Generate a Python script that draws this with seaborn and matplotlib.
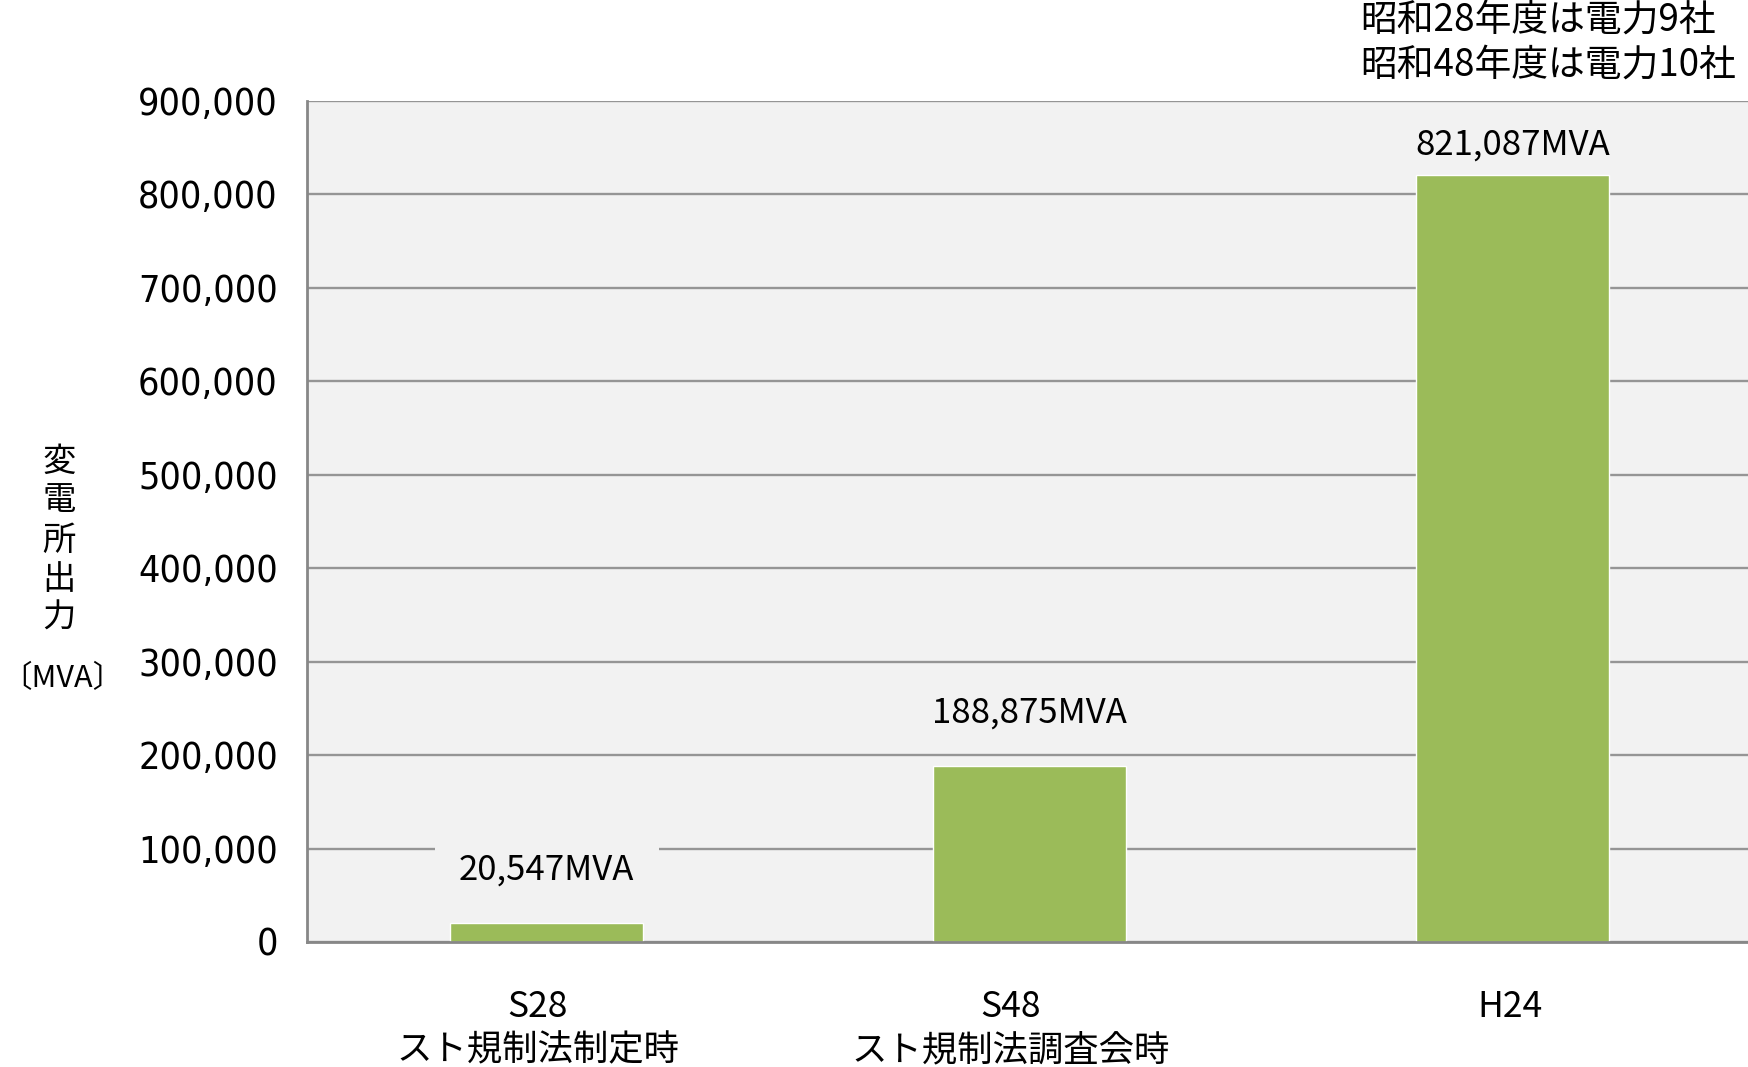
import matplotlib
matplotlib.use("Agg")
import matplotlib.pyplot as plt
import matplotlib.transforms as mtransforms
import seaborn as sns

# Substation output (MVA) at three points in time
categories = ["S28\nスト規制法制定時", "S48\nスト規制法調査会時", "H24"]
values = [20547, 188875, 821087]
value_labels = ["20,547MVA", "188,875MVA", "821,087MVA"]
y_ticks = [0, 100000, 200000, 300000, 400000, 500000, 600000, 700000, 800000, 900000]
y_tick_labels = ["0", "100,000", "200,000", "300,000", "400,000", "500,000",
                 "600,000", "700,000", "800,000", "900,000"]
note_text = "昭和28年度は電力9社\n昭和48年度は電力10社"
y_label_main = "変\n電\n所\n出\n力"
y_label_unit = "〔MVA〕"

BAR_COLOR = "#9bbb59"
PANEL_BG = "#f2f2f2"
GRID_COLOR = "#959595"
SPINE_COLOR = "#878787"
# distance (points) between each bar top and its value label
LABEL_PAD = [25, 25, 9]
# horizontal nudge (pixels) of each category label
XLABEL_SHIFT = [-9, -19, -3]

sns.set_theme(style="white")
plt.rcParams["font.family"] = ["Noto Sans CJK JP", "DejaVu Sans"]
CONDENSED = ["Noto Sans ExtraCondensed", "Noto Sans Condensed",
             "DejaVu Sans Condensed", "DejaVu Sans"]

W, H = 1749, 1067
fig = plt.figure(figsize=(W / 100, H / 100), dpi=100)
ax = fig.add_axes([307 / W, 1 - 942 / H, 1 - 307 / W, (942 - 101) / H])
ax.set_facecolor(PANEL_BG)

sns.barplot(x=categories, y=values, color=BAR_COLOR, saturation=1,
            width=0.4, ax=ax, zorder=2)

ax.set_xlim(-0.496, -0.496 + (W - 307) / 483)
ax.set_ylim(0, 900000)
ax.set_yticks(y_ticks)
ax.set_yticklabels(y_tick_labels, fontfamily=CONDENSED, fontstretch="condensed",
                   fontsize=27, color="black")
ax.set_xticks(range(len(categories)))
ax.set_xticklabels(categories, fontsize=25.5, color="black", linespacing=1.27)
ax.tick_params(axis="y", length=0, pad=21)
ax.tick_params(axis="x", length=0, pad=34)
for lab, dx in zip(ax.get_xticklabels(), XLABEL_SHIFT):
    lab.set_transform(lab.get_transform()
                      + mtransforms.ScaledTranslation(dx / 100, 0, fig.dpi_scale_trans))

ax.set_axisbelow(True)
ax.yaxis.grid(True, color=GRID_COLOR, linewidth=1.7)
ax.xaxis.grid(False)
for side in ("top", "right"):
    ax.spines[side].set_visible(False)
for side in ("left", "bottom"):
    ax.spines[side].set_color(SPINE_COLOR)
    ax.spines[side].set_linewidth(2)
    ax.spines[side].set_zorder(3)
ax.set_xlabel("")
ax.set_ylabel("")

for i, (v, lab, pad) in enumerate(zip(values, value_labels, LABEL_PAD)):
    t = ax.annotate(lab, xy=(i, v), xytext=(0, pad), textcoords="offset points",
                    ha="center", va="bottom", fontsize=25, color="black",
                    zorder=4)
    if i == 0:
        # the lowest label sits on a gridline, so mask the line behind it
        t.set_bbox(dict(boxstyle="square,pad=0.7", facecolor=PANEL_BG,
                        edgecolor="none"))

fig.text(59 / W, 1 - 540 / H, y_label_main, ha="center", va="center",
         fontsize=24, linespacing=1.15, color="black")
fig.text(1 / W, 1 - 678 / H, y_label_unit, ha="left", va="center",
         fontsize=22, color="black")

fig.text(1360 / W, 1 - 43 / H, note_text, ha="left", va="center",
         fontsize=26.5, linespacing=1.2, color="black")

fig.savefig("out.png", dpi=100, facecolor="white")
